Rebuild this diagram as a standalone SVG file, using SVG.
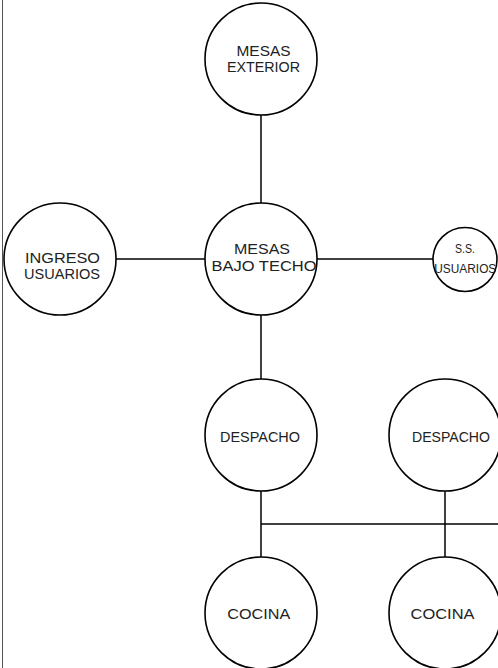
<svg xmlns="http://www.w3.org/2000/svg" width="498" height="668" viewBox="0 0 498 668">
<style>
.n{fill:#fff;stroke:#000;stroke-width:1.6}
.c{stroke:#000;stroke-width:1.5;fill:none}
.t{font-family:"Liberation Sans",Arial,sans-serif;font-size:15px;fill:#222;text-anchor:middle}
.s{font-size:12px}
</style>
<rect width="498" height="668" fill="#fff"/>
<line x1="2.5" y1="0" x2="2.5" y2="668" stroke="#555" stroke-width="1"/>
<g id="connectors">
<line class="c" x1="261" y1="115" x2="261" y2="203"/>
<line class="c" x1="116" y1="259" x2="205" y2="259"/>
<line class="c" x1="317" y1="259" x2="433" y2="259"/>
<line class="c" x1="261" y1="315" x2="261" y2="379"/>
<line class="c" x1="261" y1="491" x2="261" y2="557"/>
<line class="c" x1="445" y1="491" x2="445" y2="557"/>
<line class="c" x1="261" y1="524" x2="498" y2="524"/>
</g>
<g id="mesas-exterior">
<circle class="n" cx="261" cy="59" r="56"/>
<text class="t" x="263.5" y="55.5" textLength="54" lengthAdjust="spacingAndGlyphs">MESAS</text>
<text class="t" x="263.5" y="72.3" textLength="73" lengthAdjust="spacingAndGlyphs">EXTERIOR</text>
</g>
<g id="mesas-bajo-techo">
<circle class="n" cx="261" cy="259" r="56"/>
<text class="t" x="262" y="254.3" textLength="56" lengthAdjust="spacingAndGlyphs">MESAS</text>
<text class="t" x="264" y="271" textLength="105" lengthAdjust="spacingAndGlyphs">BAJO TECHO</text>
</g>
<g id="ingreso-usuarios">
<circle class="n" cx="60" cy="259" r="56"/>
<text class="t" x="62.5" y="263.3" textLength="75" lengthAdjust="spacingAndGlyphs">INGRESO</text>
<text class="t" x="62" y="279.3" textLength="76" lengthAdjust="spacingAndGlyphs">USUARIOS</text>
</g>
<g id="ss-usuarios">
<circle class="n" cx="465" cy="259.5" r="32"/>
<text class="t s" x="465" y="252.7" textLength="20" lengthAdjust="spacingAndGlyphs">S.S.</text>
<text class="t s" x="465.3" y="272.7" textLength="62" lengthAdjust="spacingAndGlyphs">USUARIOS</text>
</g>
<g id="despacho-1">
<circle class="n" cx="261" cy="435" r="56"/>
<text class="t" x="260" y="442.3" textLength="80" lengthAdjust="spacingAndGlyphs">DESPACHO</text>
</g>
<g id="despacho-2">
<circle class="n" cx="445" cy="435" r="56"/>
<text class="t" x="451" y="442.3" textLength="78" lengthAdjust="spacingAndGlyphs">DESPACHO</text>
</g>
<g id="cocina-1">
<circle class="n" cx="261" cy="613" r="56"/>
<text class="t" x="258.7" y="619" textLength="63" lengthAdjust="spacingAndGlyphs">COCINA</text>
</g>
<g id="cocina-2">
<circle class="n" cx="445" cy="613" r="56"/>
<text class="t" x="442.5" y="619" textLength="64" lengthAdjust="spacingAndGlyphs">COCINA</text>
</g>
</svg>
